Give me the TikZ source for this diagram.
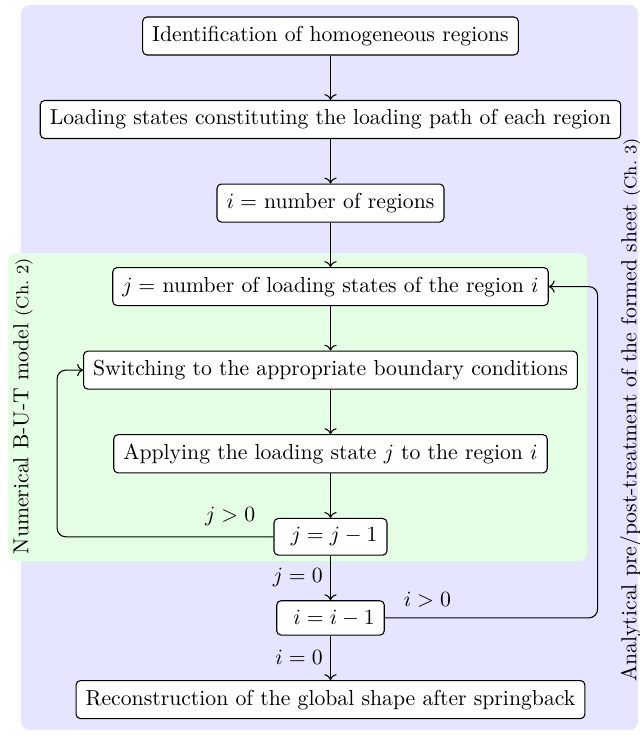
\documentclass[tikz,border=0pt]{standalone}
\usepackage{amsmath}
\usepackage{tikz}
\usetikzlibrary{
    arrows.meta,             % For modern arrow tips
    positioning              % For relative placement of nodes (e.g., below=of)
}

\begin{document}
\begin{tikzpicture}[
    font=\normalsize,
    node distance=0.72cm,
    box_style/.style={draw, fill=white, rounded corners=2pt, inner xsep=4.4pt, inner ysep=4.2pt, line width=0.5pt},
    arrow_style/.style={->, line width=0.5pt},
    cond_style/.style={above, pos=0.1, yshift=1.5pt},
    side_style/.style={rotate=90, inner sep=0pt}
]
    % Fix the size of the figure
    \useasboundingbox (0,0) rectangle (10.35,-11.905);

    % Draw the two background regions
    \fill[blue!10, rounded corners=4pt] (0.34,-0.081) rectangle (10.335,-11.824);
    \fill[green!10, rounded corners=4pt] (0.13,-4.098) rectangle (9.508,-9.087);

    % Side labels of the regions
    \node[side_style] (num_label) at (0.373,-6.576) {Numerical B-U-T model {\footnotesize (Ch.~2)}};
    \node[side_style] (ana_label) at (10.22,-6.641) {Analytical pre/post-treatment of the formed sheet {\footnotesize (Ch.~3)}};

    % Steps of the flowchart
    \node[box_style] (ident) at (5.353,-0.583) {Identification of homogeneous regions};
    \node[box_style, below=of ident] (states) {Loading states constituting the loading path of each region};
    \node[box_style, below=of states] (nregions) {$i=$ number of regions};
    \node[box_style, below=of nregions] (nstates) {$j=$ number of loading states of the region $i$};
    \node[box_style, below=of nstates] (switch) {Switching to the appropriate boundary conditions};
    \node[box_style, below=of switch] (apply) {Applying the loading state $j$ to the region $i$};
    \node[box_style, below=of apply] (dec_j) {\ $j=j-1$};
    \node[box_style, below=of dec_j] (dec_i) {\ $i=i-1$};
    \node[box_style, below=of dec_i] (rebuild) {Reconstruction of the global shape after springback};

    % Straight arrows
    \foreach \a/\b in {ident/states, states/nregions, nregions/nstates, nstates/switch, switch/apply, apply/dec_j}
        \draw[arrow_style] (\a) -- (\b);
    \draw[arrow_style] (dec_j) -- node[left] {$j=0$} (dec_i);
    \draw[arrow_style] (dec_i) -- node[left] {$i=0$} (rebuild);

    % Loops back
    \draw[arrow_style, rounded corners=4pt] (dec_j.west) -| node[cond_style] {$j>0$} ([xshift=-0.42cm]switch.west) -- (switch.west);
    \draw[arrow_style, rounded corners=4pt] (dec_i.east) -| node[cond_style] {$i>0$} ([xshift=0.79cm]nstates.east) -- (nstates.east);
\end{tikzpicture}
\end{document}
